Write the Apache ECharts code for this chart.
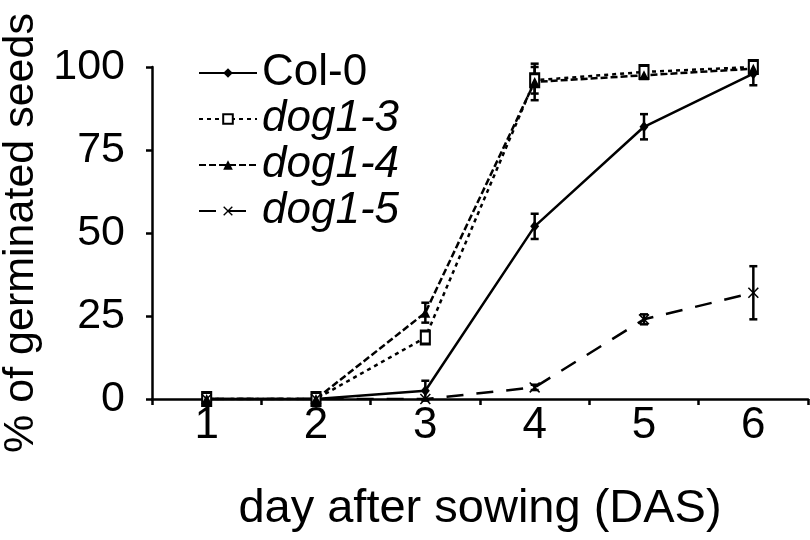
<!DOCTYPE html>
<html>
<head>
<meta charset="utf-8">
<script src="https://cdn.jsdelivr.net/npm/echarts@6/dist/echarts.min.js"></script>
<style>
  html, body { margin: 0; padding: 0; background: #ffffff; }
  #chart { width: 810px; height: 540px; }
</style>
</head>
<body>
<div id="chart"></div>
<script>
// days after sowing
var days = ['1', '2', '3', '4', '5', '6'];

// % germinated
var col0 = [0, 0, 2.5, 52, 82, 98];
var col0Err = [0, 0, 3, 3.8, 3.8, 3.5];
var dog13 = [0, 0, 18.5, 96, 98.5, 100];
var dog13Err = [0, 0, 1.5, 4, 1, 1];
var dog14 = [0, 0, 26, 95.5, 97.5, 99.5];
var dog14Err = [0, 0, 3, 5.5, 1, 1];
var dog15 = [0, 0, 0, 3.5, 24, 32];
var dog15Err = [0, 0, 0, 0.8, 1.5, 8];

var yTicks = [0, 25, 50, 75, 100];

var FONT = 'Liberation Sans';
var crossPath = 'path://M0,1 L1,0 L5,4 L9,0 L10,1 L6,5 L10,9 L9,10 L5,6 L1,10 L0,9 L4,5 Z';

function errSeries(vals, errs) {
  var d = vals.map(function (v, i) { return [i, v, errs[i]]; });
  return {
    type: 'custom',
    silent: true,
    z: 3,
    data: d,
    renderItem: function (params, api) {
      var x = api.value(0), v = api.value(1), e = api.value(2);
      if (!e) return null;
      var top = api.coord([x, v + e]);
      var bot = api.coord([x, v - e]);
      var cap = 4;
      var st = { stroke: '#000', lineWidth: 2.5 };
      return {
        type: 'group',
        children: [
          { type: 'line', shape: { x1: top[0], y1: top[1], x2: bot[0], y2: bot[1] }, style: st },
          { type: 'line', shape: { x1: top[0] - cap, y1: top[1], x2: top[0] + cap, y2: top[1] }, style: st },
          { type: 'line', shape: { x1: bot[0] - cap, y1: bot[1], x2: bot[0] + cap, y2: bot[1] }, style: st }
        ]
      };
    }
  };
}

var myChart = echarts.init(document.getElementById('chart'));
var option = {
  backgroundColor: '#ffffff',
  animation: false,
  textStyle: { fontFamily: FONT, color: '#000' },
  grid: { left: 152, right: 2, top: 67, bottom: 141, outerBoundsMode: 'none', containLabel: false },
  legend: {
    orient: 'vertical',
    left: 193,
    top: 46,
    itemWidth: 58,
    itemHeight: 12,
    itemGap: 2,
    data: ['Col-0', 'dog1-3', 'dog1-4', 'dog1-5'],
    formatter: function (name) {
      return name === 'Col-0' ? '{n|' + name + '}' : '{i|' + name + '}';
    },
    textStyle: {
      fontFamily: FONT,
      fontSize: 44,
      color: '#000',
      rich: {
        n: { fontSize: 44, fontFamily: FONT, color: '#000', lineHeight: 44 },
        i: { fontSize: 44, fontFamily: FONT, color: '#000', fontStyle: 'italic', lineHeight: 44 }
      }
    }
  },
  xAxis: {
    type: 'category',
    data: days,
    boundaryGap: true,
    name: 'day after sowing (DAS)',
    nameLocation: 'middle',
    nameGap: 87,
    nameTextStyle: { fontSize: 47, fontFamily: FONT, color: '#000' },
    axisLine: { lineStyle: { color: '#000', width: 2.5 } },
    axisTick: { show: true, length: 6, lineStyle: { color: '#000', width: 2.5 } },
    axisLabel: { fontSize: 44, fontFamily: FONT, color: '#000', margin: 5 },
    splitLine: { show: false }
  },
  yAxis: {
    type: 'value',
    min: 0,
    max: 100,
    interval: 25,
    name: '% of germinated seeds',
    nameLocation: 'middle',
    nameGap: 109,
    nameTextStyle: { fontSize: 43, fontFamily: FONT, color: '#000' },
    axisLine: { show: true, lineStyle: { color: '#000', width: 2.5 } },
    axisTick: { show: true, length: 6, lineStyle: { color: '#000', width: 2.5 } },
    axisLabel: {
      fontSize: 43, fontFamily: FONT, color: '#000', margin: 27,
      formatter: function (v) { return yTicks.indexOf(v) >= 0 ? String(v) : ''; }
    },
    splitLine: { show: false }
  },
  series: [
    {
      name: 'Col-0', type: 'line', data: col0,
      symbol: 'diamond', symbolSize: [9, 11], z: 4,
      lineStyle: { color: '#000', width: 2.5, type: 'solid' },
      itemStyle: { color: '#000' }
    },
    {
      name: 'dog1-3', type: 'line', data: dog13,
      symbol: 'rect', symbolSize: [9, 13], z: 4,
      lineStyle: { color: '#000', width: 2.5, type: [4, 4] },
      itemStyle: { color: '#fff', borderColor: '#000', borderWidth: 2.5 }
    },
    {
      name: 'dog1-4', type: 'line', data: dog14,
      symbol: 'triangle', symbolSize: [10, 10], z: 4,
      lineStyle: { color: '#000', width: 2.5, type: [7, 3] },
      itemStyle: { color: '#000' }
    },
    {
      name: 'dog1-5', type: 'line', data: dog15,
      symbol: crossPath, symbolSize: 11, z: 4,
      lineStyle: { color: '#000', width: 2.5, type: [17, 13] },
      itemStyle: { color: '#000' }
    },
    errSeries(col0, col0Err),
    errSeries(dog13, dog13Err),
    errSeries(dog14, dog14Err),
    errSeries(dog15, dog15Err)
  ]
};
myChart.setOption(option);
</script>
</body>
</html>
